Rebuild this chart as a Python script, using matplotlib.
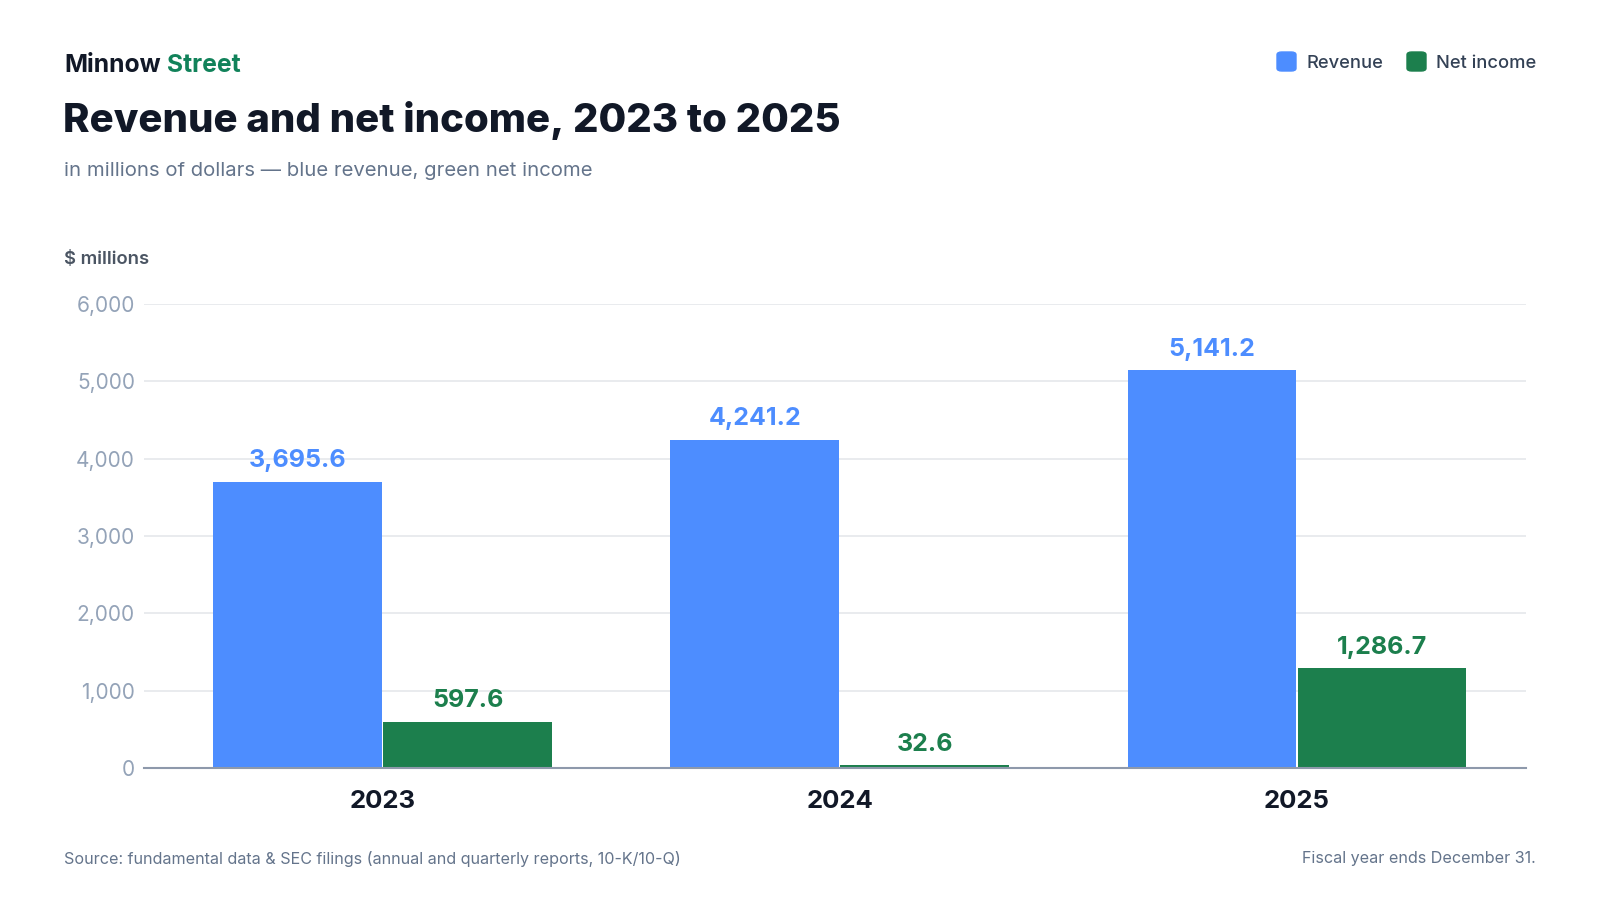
import matplotlib.pyplot as plt
from matplotlib.patches import FancyBboxPatch
import numpy as np

plt.rcParams['font.family'] = ['Inter', 'DejaVu Sans']

# Data (millions of dollars)
years = ['2023', '2024', '2025']
revenue = [3695.6, 4241.2, 5141.2]
net_income = [597.6, 32.6, 1286.7]

BLUE = '#4D8DFF'
GREEN = '#1C7F4D'
DARK = '#111827'
SLATE = '#64748B'
TICK = '#94A3B8'

W, H = 1600, 900
fig = plt.figure(figsize=(16, 9), dpi=100)
ax = fig.add_axes([144 / W, 1 - 768 / H, (1526 - 144) / W, (768 - 304) / H])

x = np.arange(len(years))
w = 0.369
off = 0.186
ax.bar(x - off, revenue, width=w, color=BLUE, zorder=3)
ax.bar(x + off, net_income, width=w, color=GREEN, zorder=3)

for xi, v in zip(x, revenue):
    ax.annotate(f'{v:,.1f}', (xi - off, v), xytext=(0, 7), textcoords='offset points',
                ha='center', va='bottom', fontsize=18, fontweight='bold', color=BLUE)
for xi, v in zip(x, net_income):
    ax.annotate(f'{v:,.1f}', (xi + off, v), xytext=(0, 7), textcoords='offset points',
                ha='center', va='bottom', fontsize=18, fontweight='bold', color=GREEN)

ax.set_xlim(-0.522, 2.501)
ax.set_ylim(0, 6000)
ax.set_yticks(range(0, 6001, 1000))
ax.set_yticklabels([f'{t:,}' for t in range(0, 6001, 1000)])
ax.set_xticks(x)
ax.set_xticklabels(years, fontsize=18.5, fontweight='bold', color=DARK)
ax.tick_params(axis='x', length=0, pad=16)
ax.tick_params(axis='y', length=0, pad=6.5, labelsize=15, labelcolor=TICK)
ax.grid(axis='y', color='#E5E7EB', linewidth=1.2, zorder=0)
for s in ['top', 'right', 'left']:
    ax.spines[s].set_visible(False)
ax.spines['bottom'].set_color('#8E99AB')
ax.spines['bottom'].set_linewidth(1.5)
ax.spines['bottom'].set_zorder(4)

# Header
t1 = fig.text(64 / W, 1 - 65 / H, 'Minnow', fontsize=17.8, fontweight='bold',
              color=DARK, va='center', ha='left')
ax.annotate(' Street', xy=(1, 0.5), xycoords=t1, va='center', ha='left',
            fontsize=17.8, fontweight='bold', color='#11825A', annotation_clip=False)
fig.text(63 / W, 1 - 121 / H, 'Revenue and net income, 2023 to 2025', fontsize=28.9,
         fontweight='heavy', color=DARK, va='center', ha='left')
fig.text(64 / W, 1 - 171 / H, 'in millions of dollars \u2014 blue revenue, green net income',
         fontsize=14.6, color=SLATE, va='center', ha='left')
fig.text(64 / W, 1 - 259 / H, '$ millions', fontsize=13.3, fontweight='semibold',
         color='#4B5563', va='center', ha='left')

# Legend
for sx, label, col in [(1277, 'Revenue', BLUE), (1407, 'Net income', GREEN)]:
    fig.patches.append(FancyBboxPatch((sx / W, 1 - 71 / H), 19 / W, 19 / H,
                                      boxstyle='round,pad=0,rounding_size=0.003',
                                      transform=fig.transFigure, color=col, figure=fig))
    fig.text((sx + 29) / W, 1 - 64 / H, label, fontsize=13.2, fontweight='medium',
             color='#334155', va='center', ha='left')

# Footer
fig.text(64 / W, 1 - 859 / H,
         'Source: fundamental data & SEC filings (annual and quarterly reports, 10-K/10-Q)',
         fontsize=11.6, color=SLATE, va='center', ha='left')
fig.text(1536 / W, 1 - 859 / H, 'Fiscal year ends December 31.', fontsize=11.6,
         color=SLATE, va='center', ha='right')

fig.savefig('out.png', dpi=100, facecolor='white')
